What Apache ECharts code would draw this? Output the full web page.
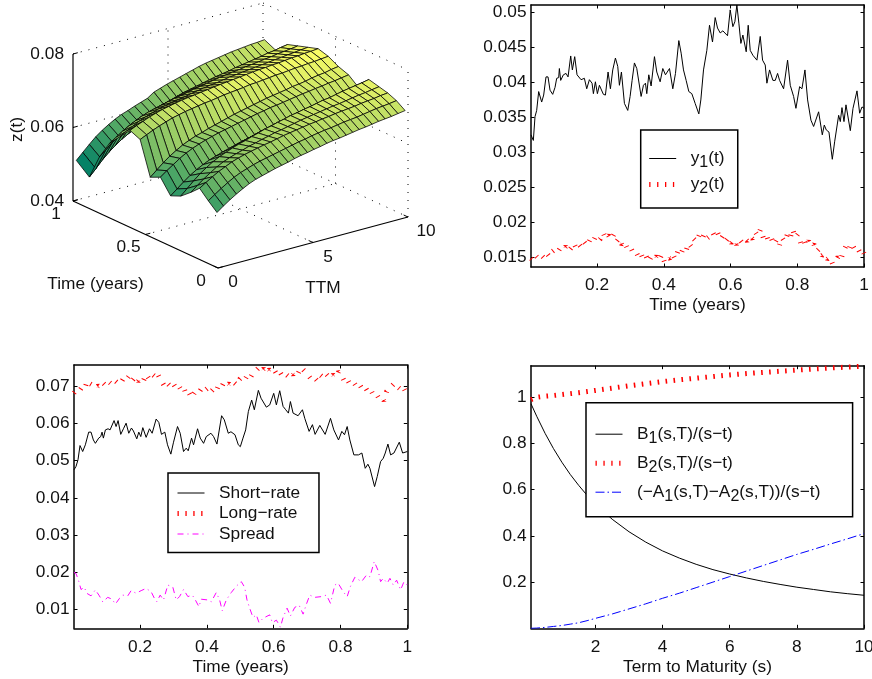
<!DOCTYPE html>
<html><head><meta charset="utf-8">
<style>html,body{margin:0;padding:0;background:#fff}#c{width:872px;height:679px}</style>
<script src="https://cdn.jsdelivr.net/npm/echarts@6/dist/echarts.min.js"></script>
</head><body><div id="c"></div>
<script>
// ---- 2-D panels: values ----
const y1Time=[.002,.009,.014,.019,.025,.029,.034,.04,.047,.053,.059,.067,.074,.079,.085,.087,.091,.099,.107,.113,.121,.126,.133,.14,.152,.162,.169,.177,.185,.189,.195,.201,.207,.219,.225,.233,.24,.247,.255,.262,.267,.273,.282,.292,.299,.305,.312,.319,.332,.339,.345,.349,.355,.362,.372,.379,.389,.397,.405,.417,.427,.435,.445,.452,.459,.467,.475,.484,.494,.505,.511,.519,.529,.537,.546,.554,.561,.569,.577,.591,.599,.607,.613,.619,.625,.631,.637,.647,.653,.659,.667,.679,.689,.696,.704,.709,.717,.727,.734,.741,.747,.759,.771,.779,.789,.796,.807,.814,.823,.831,.841,.849,.864,.875,.881,.887,.895,.905,.912,.924,.929,.934,.94,.946,.959,.967,.979,.987,.994,1];
const y1Values=[.0325,.0317,.0351,.036,.0387,.0389,.0372,.0382,.0408,.0408,.0389,.0383,.0393,.0406,.0407,.042,.0403,.0411,.0413,.0408,.0438,.0418,.0437,.0411,.0404,.0406,.0391,.0404,.0399,.0384,.0401,.0384,.0396,.0383,.0382,.0415,.0391,.0418,.0435,.0423,.0396,.0415,.037,.036,.038,.0403,.0428,.042,.038,.0396,.0399,.0384,.0411,.0395,.0437,.0415,.0401,.042,.0411,.042,.0391,.0413,.046,.0442,.0418,.0403,.0387,.0384,.037,.0355,.0375,.0418,.0446,.0482,.0458,.0493,.0478,.0471,.0474,.0467,.0504,.048,.0487,.0511,.0485,.0456,.0468,.0444,.0482,.0446,.0439,.0432,.0466,.0432,.0425,.0399,.0418,.0403,.0403,.0413,.0403,.0391,.0432,.0396,.038,.0363,.0394,.0391,.0418,.0375,.0346,.0337,.0358,.0325,.0339,.0332,.0329,.029,.0315,.0353,.0344,.0364,.0344,.0368,.0331,.0363,.0388,.0356,.0365,.0363];
const denseTime=[.002,.01,.018,.026,.034,.042,.05,.058,.066,.074,.082,.09,.098,.106,.114,.122,.13,.138,.146,.154,.162,.17,.178,.186,.194,.202,.21,.218,.226,.234,.242,.25,.258,.266,.274,.282,.29,.298,.306,.314,.322,.33,.338,.346,.354,.362,.37,.378,.386,.394,.402,.41,.418,.426,.434,.442,.45,.458,.466,.474,.482,.49,.498,.506,.514,.522,.53,.538,.546,.554,.562,.57,.578,.586,.594,.602,.61,.618,.626,.634,.642,.65,.658,.666,.674,.682,.69,.698,.706,.714,.722,.73,.738,.746,.754,.762,.77,.778,.786,.794,.802,.81,.818,.826,.834,.842,.85,.858,.866,.874,.882,.89,.898,.906,.914,.922,.93,.938,.946,.954,.962,.97,.978,.986,.994,1];
const y2Values=[.0148,.0144,.0151,.0147,.0152,.0148,.0155,.015,.0158,.0161,.0157,.0163,.016,.0165,.0158,.0163,.017,.0162,.0168,.0163,.0171,.0166,.0174,.017,.0178,.0172,.0176,.0185,.0176,.0181,.0175,.0182,.0172,.0177,.0168,.0172,.0163,.0166,.0158,.016,.0152,.0157,.0147,.0152,.0143,.015,.0146,.0151,.0145,.0154,.0143,.015,.0148,.0155,.0147,.0158,.0153,.0162,.0158,.017,.0165,.0176,.0172,.0181,.0175,.0184,.0177,.018,.0186,.0178,.0184,.0175,.0181,.0173,.0178,.017,.0175,.0168,.0176,.0171,.0177,.0173,.018,.0176,.0186,.018,.019,.0178,.0183,.0172,.0177,.0168,.0175,.0166,.0178,.0172,.0182,.0176,.019,.0178,.0183,.017,.0176,.0166,.0173,.0165,.0168,.0158,.0162,.0152,.0155,.0147,.015,.014,.0143,.015,.0145,.0158,.0166,.016,.017,.0163,.0166,.0158,.0162,.0155];
const shortTime=[.002,.008,.014,.02,.028,.036,.046,.053,.06,.066,.076,.082,.086,.09,.096,.104,.11,.122,.128,.134,.142,.15,.158,.166,.174,.18,.19,.196,.202,.208,.218,.228,.236,.248,.256,.264,.274,.282,.292,.3,.312,.32,.33,.338,.344,.354,.36,.372,.38,.39,.398,.412,.42,.43,.444,.452,.464,.472,.484,.494,.5,.508,.516,.524,.534,.542,.554,.562,.578,.588,.6,.608,.618,.628,.636,.644,.65,.658,.673,.686,.693,.706,.716,.724,.738,.754,.77,.78,.794,.804,.812,.82,.828,.84,.854,.864,.874,.882,.888,.902,.91,.92,.928,.934,.942,.95,.96,.976,.986,1];
const shortValues=[.0475,.0484,.0502,.054,.0524,.0542,.0576,.0576,.0555,.0546,.056,.0564,.0576,.056,.0582,.0585,.0582,.0607,.0591,.0607,.057,.0585,.06,.0573,.0587,.0579,.0558,.0576,.0564,.0588,.0562,.0585,.0573,.0611,.0602,.057,.0576,.0542,.0517,.0549,.0591,.0573,.0524,.0533,.0526,.056,.0542,.0585,.056,.0546,.0564,.0573,.0564,.0544,.062,.0609,.0573,.0577,.0569,.0542,.0537,.056,.0582,.0631,.0662,.0636,.0688,.0667,.0643,.0649,.068,.0649,.0687,.0645,.0636,.0627,.0658,.0627,.062,.0636,.0613,.0578,.0596,.057,.0594,.057,.0613,.0582,.0555,.0578,.0569,.0591,.0555,.0515,.0515,.052,.0479,.049,.0479,.043,.0457,.0497,.0506,.052,.0544,.0515,.052,.0549,.052,.0524];
const longValues=[.0681,.069,.0686,.0697,.0692,.0714,.0706,.0702,.0694,.07,.0695,.0707,.07,.0711,.0705,.0716,.071,.072,.0714,.0726,.072,.073,.0716,.0725,.0712,.0722,.0714,.0731,.072,.0733,.0727,.0737,.0722,.071,.0697,.0707,.0699,.0708,.0696,.0703,.069,.0697,.0676,.0682,.0668,.068,.069,.0685,.0696,.0688,.0694,.0682,.069,.0683,.07,.0694,.0708,.07,.0706,.0698,.0708,.0702,.0718,.0725,.0717,.073,.0722,.0735,.074,.0748,.0738,.0746,.0735,.0744,.0736,.0742,.073,.0738,.0726,.0733,.0727,.0738,.073,.0742,.0735,.075,.0742,.0735,.0725,.0716,.0722,.0714,.073,.0724,.0735,.0727,.072,.073,.0723,.0738,.073,.0715,.0722,.0708,.07,.0706,.0695,.0702,.069,.0696,.0684,.069,.0676,.068,.0668,.0672,.066,.0685,.0692,.07,.0708,.0698,.0692,.07,.0686,.069];
const spreadTime=[.002,.008,.016,.023,.033,.04,.053,.066,.078,.088,.103,.116,.126,.138,.148,.163,.173,.188,.203,.218,.233,.243,.25,.26,.27,.283,.298,.308,.318,.33,.343,.356,.363,.376,.383,.403,.413,.428,.438,.446,.458,.473,.488,.503,.513,.52,.528,.538,.548,.556,.568,.588,.596,.608,.62,.628,.64,.65,.663,.676,.688,.698,.708,.723,.743,.758,.77,.783,.793,.808,.82,.83,.843,.863,.878,.888,.901,.913,.92,.928,.94,.948,.958,.968,.98,.99,1];
const spreadValues=[.02,.0197,.0177,.0154,.016,.0144,.0137,.0153,.0137,.0121,.0133,.0128,.0115,.013,.0139,.0137,.0151,.0144,.0151,.0157,.0148,.013,.0121,.0139,.0126,.0166,.016,.0126,.0135,.0154,.0135,.0139,.013,.0108,.0128,.0126,.0121,.0146,.0126,.0097,.0126,.0146,.0163,.0175,.016,.0126,.0104,.0079,.0086,.0065,.0077,.0086,.0065,.0072,.0053,.0079,.0104,.0083,.0106,.0112,.0088,.0115,.0139,.0133,.0135,.0139,.0117,.0166,.0171,.0148,.0135,.0163,.0187,.0175,.0193,.0188,.0229,.0204,.0175,.0184,.0171,.0184,.0166,.0179,.0153,.0175,.0166];
const termS=[.08,.25,.5,.75,1,1.25,1.5,1.75,2,2.5,3,3.5,4,4.5,5,5.5,6,6.5,7,7.5,8,8.5,9,9.5,10];
const b1Values=[.972,.918,.844,.778,.719,.666,.619,.576,.538,.472,.418,.373,.335,.304,.277,.254,.235,.218,.203,.19,.178,.168,.158,.15,.143];
const b2Values=[.99,1,1.005,1.008,1.012,1.016,1.02,1.025,1.03,1.04,1.05,1.059,1.068,1.076,1.083,1.09,1.097,1.103,1.108,1.113,1.118,1.123,1.127,1.131,1.135];
const aValues=[0,.001,.004,.008,.012,.018,.024,.033,.043,.062,.084,.106,.13,.152,.176,.2,.224,.248,.272,.296,.32,.342,.365,.387,.41];
const timeTicks=[.2,.4,.6,.8,1];
const y1Ticks=[.015,.02,.025,.03,.035,.04,.045,.05];
const rateTicks=[.01,.02,.03,.04,.05,.06,.07];
const termTicks=[2,4,6,8,10];
const loadTicks=[.2,.4,.6,.8,1];
// ---- 3-D surface: z(t) on a time x TTM mesh ----
const surfTime=[.02,.08,.14,.2,.27,.34,.41,.48,.55,.62,.69,.76,.83,.9,.99];
const surfTTM=[.1,.44,.78,1.12,1.46,1.8,2.14,2.48,2.82,3.16,3.5,3.84,4.18,4.52,4.86,5.2,5.54,5.88,6.22,6.56,6.9,7.24,7.58,7.92,8.26,8.6,8.94,9.28,9.62,10];
const surfZ1e4=[
[546,559,571,582,592,601,608,613,618,623,627,631,636,640,643,647,650,654,657,659,662,665,668,670,673,676,678,680,683,686],
[567,579,591,602,612,620,626,632,637,641,645,649,653,657,661,664,668,671,674,676,679,682,684,686,689,692,695,697,699,702],
[590,601,612,622,630,638,644,649,653,657,661,664,668,672,675,678,681,684,686,689,691,694,696,698,700,703,705,707,710,712],
[568,582,595,607,618,627,634,640,645,651,655,660,664,669,672,676,680,684,687,690,693,696,699,701,704,707,710,712,715,718],
[545,561,577,592,604,615,624,631,638,644,649,655,660,666,670,675,679,684,687,691,694,698,702,704,708,712,715,718,721,725],
[533,547,561,574,585,594,602,608,614,619,624,629,633,638,642,646,650,654,657,660,663,666,670,672,675,678,681,684,687,690],
[571,584,596,608,618,626,633,639,644,649,653,657,661,665,669,673,676,680,682,685,688,691,694,696,699,701,704,706,709,712],
[558,573,588,601,612,622,630,637,642,648,653,658,663,668,672,676,680,684,688,691,694,697,701,703,706,710,713,715,719,722],
[648,656,664,671,677,683,687,691,694,697,700,702,705,708,710,712,714,717,718,720,722,724,725,727,729,730,732,733,735,737],
[660,668,675,682,688,693,697,701,704,707,709,712,714,717,719,721,723,725,727,729,731,732,734,735,737,739,740,742,743,745],
[630,640,649,658,665,671,677,681,685,688,691,695,698,701,704,706,709,712,714,716,718,720,722,724,726,728,730,732,734,736],
[600,611,623,633,642,650,656,661,665,670,674,677,681,685,688,691,695,698,700,703,705,708,710,712,715,717,720,722,724,727],
[550,565,580,594,605,616,624,631,637,642,647,652,658,663,667,671,675,679,683,686,689,693,696,699,702,705,709,711,715,718],
[482,500,519,535,549,561,571,579,587,594,600,606,612,618,623,628,633,638,642,646,650,655,659,662,666,670,674,677,681,685],
[511,528,545,561,574,585,595,603,609,616,622,628,640,646,652,657,662,667,672,677,681,684,687,690,693,695,697,699,700,702]];
const zTicks3d=[.04,.06,.08], timeTicks3d=[0,.5,1], ttmTicks3d=[0,5,10];

const FONT='"Liberation Sans",Arial,sans-serif', INK='#111', FS=17.3;
// view transform of the 3-D box (t, TTM, z) -> plane of the hidden grid
const proj=(t,T,z)=>[218+19*T-145*t, 268-5.1*T-67*t-3675*(z-.04)];

function xAxes(g,min,max,ticks,name){
  const base={type:'value',gridIndex:g,min,max,splitLine:{show:false},
    axisLine:{onZero:false,lineStyle:{color:'#000',width:1.5}},
    axisTick:{inside:true,length:3.5,customValues:ticks,lineStyle:{color:'#000',width:1}}};
  return [Object.assign({},base,{position:'bottom',name,nameLocation:'middle',nameGap:30,
      nameTextStyle:{fontFamily:FONT,fontSize:FS,color:INK},
      axisLabel:{customValues:ticks,margin:10,fontFamily:FONT,fontSize:FS,color:INK,hideOverlap:false}}),
    Object.assign({},base,{position:'top',axisLabel:{show:false}})];
}
function yAxes(g,min,max,ticks){
  const base={type:'value',gridIndex:g,min,max,splitLine:{show:false},
    axisLine:{onZero:false,lineStyle:{color:'#000',width:1.5}},
    axisTick:{inside:true,length:3.5,customValues:ticks,lineStyle:{color:'#000',width:1}}};
  return [Object.assign({},base,{position:'left',
      axisLabel:{customValues:ticks,margin:4.5,fontFamily:FONT,fontSize:FS,color:INK}}),
    Object.assign({},base,{position:'right',axisLabel:{show:false}})];
}
const xAxis=[...xAxes(0,.002,1,timeTicks,'Time (years)'),...xAxes(1,.002,1,timeTicks,'Time (years)'),...xAxes(2,.08,10,termTicks,'Term to Maturity (s)'),
  {type:'value',gridIndex:3,min:0,max:872,show:false}];
const yAxis=[...yAxes(0,.01357,.0511,y1Ticks),...yAxes(1,.005,.0756,rateTicks),...yAxes(2,0,1.137,loadTicks),
  {type:'value',gridIndex:3,min:0,max:679,inverse:true,show:false}];
const grid=[
 {left:531,top:5,width:333,height:262,outerBoundsMode:'none'},
 {left:74,top:365,width:333.3,height:263.3,outerBoundsMode:'none'},
 {left:531,top:365.7,width:333,height:262.6,outerBoundsMode:'none'},
 {left:0,top:0,width:872,height:679,outerBoundsMode:'none',show:false}];
const pair=(a,b)=>a.map((v,i)=>[v,b[i]]);
function line(name,xi,yi,xs,ys,color,width,dash){
  return {type:'line',name,xAxisIndex:xi,yAxisIndex:yi,data:pair(xs,ys),showSymbol:false,symbol:'none',
    lineStyle:{color,width,type:dash||'solid',cap:'butt',join:'bevel'},itemStyle:{color},silent:true,animation:false,z:3};
}
const DOT=[1.6,6.4], DOT_RATE=[1,8.5], DASHDOT_M=[6,4,1,4], DASHDOT_B=[9,3,1.5,3];

// ---- 3-D helper data ----
const cells=[];
for(let i=surfTime.length-1;i>=1;i--) for(let j=surfTTM.length-2;j>=0;j--) cells.push([i,j]);
const dotted=[];
const Z0=zTicks3d[0],Z1=zTicks3d[2];
zTicks3d.forEach(z=>{dotted.push([1,0,z,1,10,z]);dotted.push([1,10,z,0,10,z]);});
dotted.push([1,5,Z0,1,5,Z1],[1,10,Z0,1,10,Z1],[.5,10,Z0,.5,10,Z1],[0,10,Z0,0,10,Z1],[0,5,Z0,1,5,Z0],[.5,0,Z0,.5,10,Z0]);
const solid=[[1,0,Z0,1,0,Z1],[0,0,Z0,1,0,Z0],[0,0,Z0,0,10,Z0]];
const ticks3d=[];
zTicks3d.forEach(z=>ticks3d.push([1,0,z,1,.25,z]));
timeTicks3d.forEach(t=>ticks3d.push([t,0,Z0,t,.25,Z0]));
ttmTicks3d.forEach(T=>ticks3d.push([0,T,Z0,.03,T,Z0]));
const labels3d=[];
zTicks3d.forEach(z=>{const a=proj(1,0,z);labels3d.push({s:String(z.toFixed(2)),p:a,dx:-9,dy:0,align:'right'});});
timeTicks3d.forEach(t=>{labels3d.push({s:String(t),p:proj(t,0,Z0),dx:-17,dy:13,align:'center'});});
ttmTicks3d.forEach(T=>{labels3d.push({s:String(T),p:proj(0,T,Z0),dx:T==10?18:15,dy:14.5,align:'center'});});
labels3d.push({s:'Time (years)',p:proj(.5,0,Z0),dx:-50,dy:50,align:'center'});
labels3d.push({s:'TTM',p:proj(0,5,Z0),dx:10,dy:46,align:'center'});
labels3d.push({s:'z(t)',p:proj(1,0,.06),dx:-56,dy:2,align:'center',rot:Math.PI/2});

function cellColor(z){
  const c=Math.max(0,Math.min(1,(z-.05)/.0245));
  return 'rgb('+Math.round(255*c)+','+Math.round(255*(.5+.5*c))+',102)';
}
const seriesSurface={type:'custom',name:'surface',coordinateSystem:'cartesian2d',xAxisIndex:6,yAxisIndex:6,clip:false,silent:true,animation:false,z:2,
  data:cells,encode:{x:0,y:1},
  renderItem(p,api){
    const [i,j]=cells[p.dataIndex];
    const corner=[[i,j],[i,j+1],[i-1,j+1],[i-1,j]];
    let sum=0;
    const pts=corner.map(([a,b])=>{const z=surfZ1e4[a][b]/1e4;sum+=z;return api.coord(proj(surfTime[a],surfTTM[b],z));});
    return {type:'polygon',shape:{points:pts},style:{fill:cellColor(sum/4),stroke:'rgba(0,0,0,.85)',lineWidth:.9}};
  }};
function segSeries(list,style,z){
  return {type:'custom',coordinateSystem:'cartesian2d',xAxisIndex:6,yAxisIndex:6,clip:false,silent:true,animation:false,z,
    data:list.map((_,i)=>[i,0]),encode:{x:0,y:1},
    renderItem(p,api){
      const s=list[p.dataIndex],a=api.coord(proj(s[0],s[1],s[2])),b=api.coord(proj(s[3],s[4],s[5]));
      return {type:'line',shape:{x1:a[0],y1:a[1],x2:b[0],y2:b[1]},style};
    }};
}
const seriesLabels={type:'custom',coordinateSystem:'cartesian2d',xAxisIndex:6,yAxisIndex:6,clip:false,silent:true,animation:false,z:4,
  data:labels3d.map((_,i)=>[i,0]),encode:{x:0,y:1},
  renderItem(p,api){
    const l=labels3d[p.dataIndex],a=api.coord(l.p);
    return {type:'text',x:a[0]+l.dx,y:a[1]+l.dy,rotation:l.rot||0,
      style:{text:l.s,textAlign:l.align,textVerticalAlign:'middle',fontFamily:FONT,fontSize:FS,fill:INK}};
  }};

const sub=(a,n,b)=>'{n|'+a+'}{s|'+n+'}{n|'+b+'}';
const legendRich={n:{fontFamily:FONT,fontSize:FS,color:INK,lineHeight:22},s:{fontFamily:FONT,fontSize:16,color:INK,padding:[9,0,0,0],lineHeight:22}};
const legendText={ 'y1':sub('y',1,'(t)'), 'y2':sub('y',2,'(t)'),
  'Short':'{n|Short\u2212rate}','Long':'{n|Long\u2212rate}','Spread':'{n|Spread}',
  'B1':sub('B',1,'(s,T)/(s\u2212t)'),'B2':sub('B',2,'(s,T)/(s\u2212t)'),
  'A':'{n|(\u2212A}{s|1}{n|(s,T)\u2212A}{s|2}{n|(s,T))/(s\u2212t)}'};
const legendDot={lineStyle:{type:[1.3,6.6],width:5}};
function legend(names,left,top,gap,pad){
  return {show:true,data:names.map(n=>(n==='y2'||n==='Long'||n==='B2')?Object.assign({name:n},legendDot):{name:n}),orient:'vertical',left,top,itemWidth:27,itemHeight:10,itemGap:gap,padding:pad,
    backgroundColor:'#fff',borderColor:'#000',borderWidth:1.5,selectedMode:false,z:10,
    itemStyle:{opacity:0},lineStyle:{width:'inherit',type:'inherit'},
    formatter:n=>legendText[n],
    textStyle:{fontFamily:FONT,fontSize:FS,color:INK,rich:legendRich,padding:[0,0,0,9.5]}};
}
const chart=echarts.init(document.getElementById('c'),null,{renderer:'canvas'});
chart.setOption({animation:false,backgroundColor:'#fff',grid,xAxis,yAxis,tooltip:{show:false},
 legend:[legend(['y1','y2'],640.7,130,1,[16,13.2,11,6]),legend(['Short','Long','Spread'],168,473,3.5,[11.5,18.8,10,7]),legend(['B1','B2','A'],586,402.7,4,[19,32.2,12,7])],
 series:[
  segSeries(dotted,{stroke:'#000',lineWidth:1,lineDash:[1,7]},1),
  seriesSurface,
  segSeries(solid,{stroke:'#000',lineWidth:1.2},3),
  segSeries(ticks3d,{stroke:'#000',lineWidth:1},3),
  seriesLabels,
  line('y1',0,0,y1Time,y1Values,'#000',1),
  line('y2',0,0,denseTime,y2Values,'#f00',5,DOT_RATE),
  line('Short',2,2,shortTime,shortValues,'#000',1),
  line('Long',2,2,denseTime,longValues,'#f00',5,DOT_RATE),
  line('Spread',2,2,spreadTime,spreadValues,'#f0f',1,DASHDOT_M),
  line('B1',4,4,termS,b1Values,'#000',1),
  line('B2',4,4,termS,b2Values,'#f00',5,DOT),
  line('A',4,4,termS,aValues,'#00f',1,DASHDOT_B)
 ]});
</script></body></html>
